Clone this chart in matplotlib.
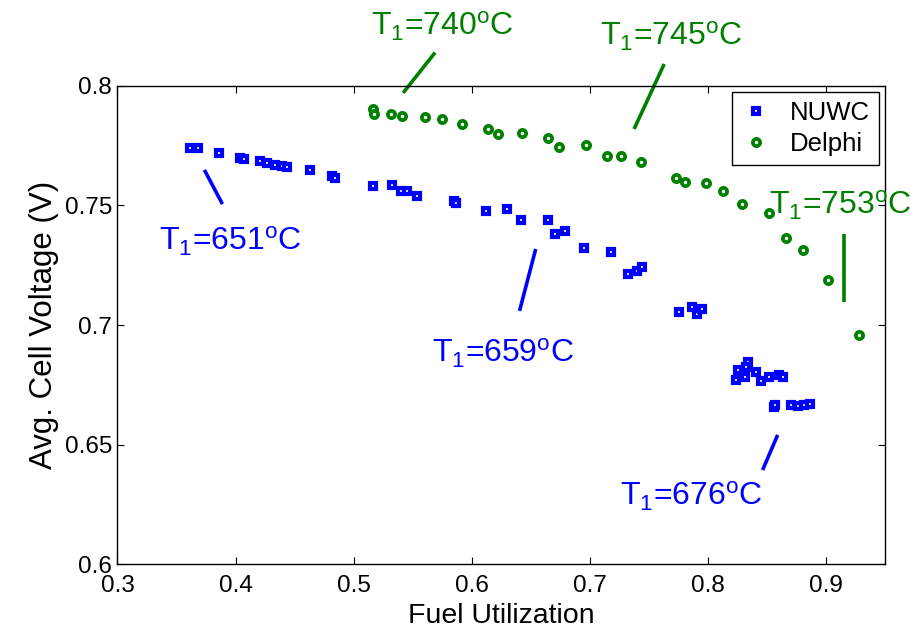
import matplotlib
matplotlib.use('Agg')
import matplotlib.pyplot as plt
import numpy as np

# NUWC data (fuel utilization, avg cell voltage)
nuwc_fu = [0.3617, 0.3683, 0.3863, 0.404, 0.407, 0.4206, 0.4263, 0.4333, 0.4396, 0.4433,
           0.4628, 0.482, 0.484, 0.5167, 0.5326, 0.5402, 0.545, 0.5538, 0.5847, 0.587,
           0.6125, 0.6295, 0.6414, 0.6644, 0.6703, 0.6786, 0.695, 0.718, 0.7321, 0.740,
           0.7443, 0.7755, 0.7866, 0.7911, 0.7951, 0.8257, 0.8342, 0.8322, 0.824, 0.8313,
           0.841, 0.8446, 0.852, 0.8605, 0.8633, 0.8560, 0.8570, 0.8707, 0.8761, 0.8815,
           0.8863]
nuwc_v = [0.7741, 0.7741, 0.7720, 0.7697, 0.7693, 0.7688, 0.7679, 0.7670, 0.7667, 0.7660,
          0.7649, 0.7625, 0.7615, 0.7582, 0.7586, 0.7562, 0.7562, 0.7540, 0.7519, 0.7510,
          0.7477, 0.7484, 0.7438, 0.7439, 0.7381, 0.7393, 0.7322, 0.7305, 0.7213, 0.7227,
          0.7244, 0.7054, 0.7077, 0.7045, 0.7067, 0.6812, 0.6844, 0.6823, 0.6771, 0.6784,
          0.6805, 0.6767, 0.6782, 0.6791, 0.6782, 0.6655, 0.6665, 0.6665, 0.6661, 0.6665,
          0.6671]

# Delphi data
delphi_fu = [0.5161, 0.5173, 0.5317, 0.5411, 0.5606, 0.5751, 0.5921, 0.6142, 0.6219, 0.6423,
             0.6644, 0.6743, 0.6967, 0.7143, 0.7264, 0.7434, 0.773, 0.7806, 0.7985, 0.8129,
             0.8291, 0.852, 0.8665, 0.8804, 0.9016, 0.9277]
delphi_v = [0.7904, 0.7883, 0.7882, 0.7873, 0.7869, 0.7863, 0.7840, 0.7819, 0.7798, 0.7802,
            0.7781, 0.7744, 0.7752, 0.7706, 0.7706, 0.7682, 0.7614, 0.7597, 0.7593, 0.7561,
            0.7506, 0.7469, 0.7363, 0.7314, 0.7188, 0.6958]

# annotation labels: (text, color, text pos, line start, line end)
ann_labels = ['740', '745', '753', '651', '659', '676']
ann_colors = ['#008000', '#008000', '#008000', '#0000ff', '#0000ff', '#0000ff']
ann_text_xy = [(0.5150, 0.8209), (0.7090, 0.8167), (0.8520, 0.7460),
               (0.3350, 0.7310), (0.5660, 0.6841), (0.7260, 0.6243)]
ann_lines = [((0.5419, 0.7971), (0.5690, 0.8140)),
             ((0.7375, 0.7820), (0.7630, 0.8092)),
             ((0.9150, 0.7381), (0.9150, 0.7096)),
             ((0.3736, 0.7649), (0.3889, 0.7506)),
             ((0.6542, 0.7318), (0.6405, 0.7059)),
             ((0.8591, 0.6540), (0.8463, 0.6393))]

plt.rcParams['font.family'] = ['Liberation Sans', 'DejaVu Sans']
plt.rcParams['mathtext.fontset'] = 'custom'
plt.rcParams['mathtext.rm'] = 'Liberation Sans'
plt.rcParams['mathtext.it'] = 'Liberation Sans'

fig = plt.figure(figsize=(9.12, 6.29), dpi=100)
ax = fig.add_axes([0.1288, 0.1033, 0.8416, 0.7600])

ax.plot(nuwc_fu, nuwc_v, 's', ms=4.3, mew=3.0, mfc='white', mec='#0000ff',
        ls='none', label='NUWC')
ax.plot(delphi_fu, delphi_v, 'o', ms=5.2, mew=2.7, mfc='white', mec='#008000',
        ls='none', label='Delphi')

for lab, col, (tx, ty), (p0, p1) in zip(ann_labels, ann_colors, ann_text_xy, ann_lines):
    ax.text(tx, ty, r'T$_1$=' + lab + r'$^{\rm o}$C', color=col, fontsize=23,
            ha='left', va='baseline', clip_on=False)
    ax.plot([p0[0], p1[0]], [p0[1], p1[1]], color=col, lw=2.6, clip_on=False,
            solid_capstyle='butt')

ax.set_xlim(0.3, 0.95)
ax.set_ylim(0.6, 0.8)
ax.set_xticks(np.arange(0.3, 0.91, 0.1))
ax.set_xticklabels(['0.3', '0.4', '0.5', '0.6', '0.7', '0.8', '0.9'])
ax.set_yticks([0.6, 0.65, 0.7, 0.75, 0.8])
ax.set_yticklabels(['0.6', '0.65', '0.7', '0.75', '0.8'])
ax.tick_params(direction='in', length=5, width=0.8, labelsize=17.5, top=True, right=True)
ax.tick_params(axis='x', pad=8)
ax.tick_params(axis='y', pad=4)
for sp in ax.spines.values():
    sp.set_linewidth(1.0)

ax.set_xlabel('Fuel Utilization', fontsize=20.5, labelpad=4)
ax.set_ylabel('Avg. Cell Voltage (V)', fontsize=22.5, labelpad=4)

leg = ax.legend(loc='upper right', fontsize=18.5, frameon=True, fancybox=False,
                framealpha=1, edgecolor='black', handlelength=1.2, handletextpad=0.7,
                borderpad=0.35, labelspacing=0.25, borderaxespad=0.25)
leg.get_frame().set_linewidth(1.0)

fig.savefig('out.png', dpi=100)
